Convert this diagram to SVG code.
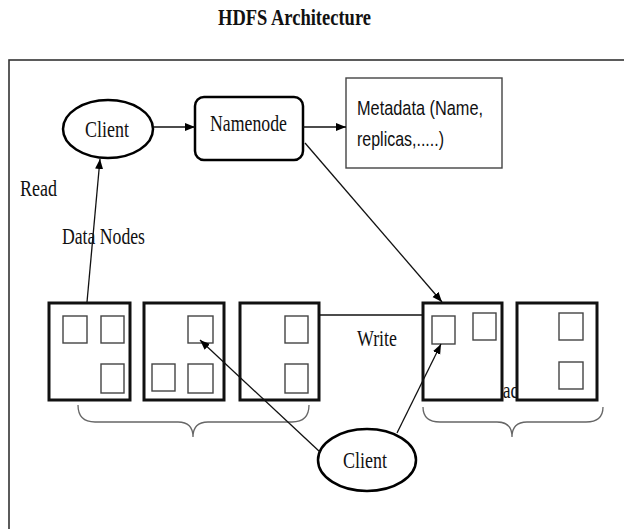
<svg xmlns="http://www.w3.org/2000/svg" width="624" height="529" viewBox="0 0 624 529">
  <defs>
    <marker id="arrow" markerUnits="userSpaceOnUse" markerWidth="11" markerHeight="9" refX="10" refY="4" orient="auto">
      <path d="M0,0 L10,4 L0,8 z" fill="#000"/>
    </marker>
    <style>
      .serif { font-family: "Liberation Serif", "Times New Roman", serif; fill: #111; }
      .sans { font-family: "Liberation Sans", Arial, sans-serif; fill: #111; }
      .title { font-weight: bold; font-size: 23px; }
      .lbl { font-size: 24px; }
      .node { fill: #fff; stroke: #000; stroke-width: 2.5; }
      .rack { fill: #fff; stroke: #111; stroke-width: 3; }
      .block { fill: #fff; stroke: #444; stroke-width: 1.4; }
      .meta { fill: #fff; stroke: #444; stroke-width: 1.4; }
      .conn { fill: none; stroke: #111; stroke-width: 1.3; }
      .brace { fill: none; stroke: #666; stroke-width: 1.3; }
    </style>
  </defs>

  <!-- heading -->
  <text class="serif title" x="218" y="25" textLength="153" lengthAdjust="spacingAndGlyphs">HDFS Architecture</text>

  <!-- outer frame, running past the right and bottom edges -->
  <rect x="9" y="60" width="700" height="600" fill="none" stroke="#333" stroke-width="1.6"/>

  <!-- free labels -->
  <text class="serif lbl" x="20" y="196" textLength="37" lengthAdjust="spacingAndGlyphs">Read</text>
  <text class="serif lbl" x="62" y="244" textLength="83" lengthAdjust="spacingAndGlyphs">Data Nodes</text>
  <text class="serif lbl" x="357" y="346" textLength="40" lengthAdjust="spacingAndGlyphs">Write</text>
  <!-- rack caption, partly covered by the data node boxes -->
  <text class="serif lbl" x="491" y="398" textLength="36" lengthAdjust="spacingAndGlyphs">Rack</text>

  <!-- top client -->
  <g id="client-read">
    <ellipse class="node" cx="108" cy="129" rx="45" ry="29"/>
    <text class="serif lbl" x="85" y="137" textLength="44" lengthAdjust="spacingAndGlyphs">Client</text>
  </g>

  <!-- namenode -->
  <g id="namenode">
    <rect class="node" x="195" y="97" width="108" height="63" rx="9"/>
    <text class="serif lbl" x="210" y="131" textLength="77" lengthAdjust="spacingAndGlyphs">Namenode</text>
  </g>

  <!-- metadata store -->
  <g id="metadata">
    <rect class="meta" x="346" y="78" width="156" height="90"/>
    <text class="sans" font-size="20.5" x="357" y="115" textLength="126" lengthAdjust="spacingAndGlyphs">Metadata (Name,</text>
    <text class="sans" font-size="20.5" x="357" y="146" textLength="87" lengthAdjust="spacingAndGlyphs">replicas,.....)</text>
  </g>

  <!-- data nodes, rack 1 -->
  <g id="datanode-1">
    <rect class="rack" x="49" y="303" width="81" height="97"/>
    <rect class="block" x="63" y="316" width="24" height="27"/>
    <rect class="block" x="101" y="316" width="23" height="27"/>
    <rect class="block" x="101" y="364" width="23" height="29"/>
  </g>
  <g id="datanode-2">
    <rect class="rack" x="144" y="303" width="80" height="97"/>
    <rect class="block" x="188" y="316" width="25" height="27"/>
    <rect class="block" x="152" y="364" width="23" height="27"/>
    <rect class="block" x="188" y="364" width="25" height="29"/>
  </g>
  <g id="datanode-3">
    <rect class="rack" x="240" y="303" width="79" height="97"/>
    <rect class="block" x="285" y="316" width="23" height="27"/>
    <rect class="block" x="285" y="364" width="23" height="29"/>
  </g>

  <!-- data nodes, rack 2 -->
  <g id="datanode-4">
    <rect class="rack" x="423" y="303" width="79" height="97"/>
    <rect class="block" x="432" y="316" width="23" height="28"/>
    <rect class="block" x="473" y="313" width="23" height="27"/>
  </g>
  <g id="datanode-5">
    <rect class="rack" x="517" y="303" width="80" height="97"/>
    <rect class="block" x="559" y="313" width="24" height="27"/>
    <rect class="block" x="559" y="362" width="24" height="27"/>
  </g>

  <!-- rack braces -->
  <g id="braces">
    <path class="brace" d="M78,405 Q78,422 95,422 L178,422 Q193,422 193,437 Q193,422 208,422 L292,422 Q309,422 309,405"/>
    <path class="brace" d="M423,407 Q423,422 440,422 L497,422 Q512,422 512,437 Q512,422 527,422 L586,422 Q603,422 603,407"/>
  </g>

  <!-- bottom client -->
  <g id="client-write">
    <ellipse class="node" cx="367" cy="460" rx="49" ry="31"/>
    <text class="serif lbl" x="343" y="468" textLength="44" lengthAdjust="spacingAndGlyphs">Client</text>
  </g>

  <!-- connectors -->
  <g id="connectors">
    <line class="conn" x1="87" y1="302" x2="100" y2="159" marker-end="url(#arrow)"/>
    <line class="conn" x1="153" y1="127" x2="195" y2="127" marker-end="url(#arrow)"/>
    <line class="conn" x1="303" y1="127" x2="346" y2="127" marker-end="url(#arrow)"/>
    <line class="conn" x1="305" y1="143" x2="442" y2="302" marker-end="url(#arrow)"/>
    <line class="conn" x1="319" y1="315" x2="423" y2="315"/>
    <line class="conn" x1="320" y1="452" x2="200" y2="340" marker-end="url(#arrow)"/>
    <line class="conn" x1="397" y1="433" x2="441" y2="344" marker-end="url(#arrow)"/>
  </g>
</svg>
